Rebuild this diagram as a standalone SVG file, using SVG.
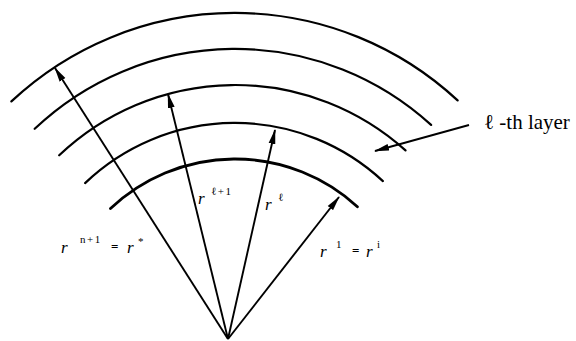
<svg xmlns="http://www.w3.org/2000/svg" width="576" height="341" viewBox="0 0 576 341">
<style>
.arc{fill:none;stroke:#000;stroke-width:2.2;stroke-linecap:round}
.ray{fill:none;stroke:#000;stroke-width:1.9;marker-end:url(#ah)}
.t{font-family:"Liberation Serif",serif;fill:#000}
.r{font-size:17px;font-style:italic}
.s{font-size:11px;letter-spacing:1.5px}
.eq{font-size:13px;font-weight:bold}
.lab{font-size:21px}
</style>
<defs>
<marker id="ah" viewBox="0 0 15 8" refX="14" refY="4" markerWidth="15" markerHeight="8" markerUnits="userSpaceOnUse" orient="auto">
<path d="M0,0.6 L15,4 L0,7.4 Z" fill="#000"/>
</marker>
</defs>
<rect width="576" height="341" fill="#fff"/>
<g id="layers">
<path class="arc" d="M11.4,101.4 A327,327 0 0 1 457.6,100.4"/>
<path class="arc" d="M34.7,128.8 A291,291 0 0 1 431.1,124.9"/>
<path class="arc" d="M59.2,155.3 A255,255 0 0 1 405.5,150.4"/>
<path class="arc" d="M85.1,183.1 A217,217 0 0 1 382.9,181.1"/>
<path class="arc" style="stroke-width:2.8" d="M110.5,208.6 A181,181 0 0 1 357.4,206.7"/>
</g>
<g id="connectors">
<line class="ray" x1="228" y1="339" x2="55" y2="68"/>
<line class="ray" x1="228" y1="339" x2="168" y2="94"/>
<line class="ray" x1="228" y1="339" x2="275" y2="130"/>
<line class="ray" x1="228" y1="339" x2="339" y2="197"/>
<line class="ray" x1="469" y1="125" x2="375" y2="151"/>
</g>
<g id="label-outer">
<text class="t r" x="61" y="253">r</text>
<text class="t s" x="80" y="243">n+1</text>
<text class="t eq" x="111" y="251">=</text>
<text class="t r" x="127" y="253">r</text>
<text class="t s" x="138" y="245">*</text>
</g>
<g id="label-l1">
<text class="t r" x="198" y="204">r</text>
<text class="t s" x="211" y="195">ℓ+1</text>
</g>
<g id="label-l">
<text class="t r" x="265" y="210">r</text>
<text class="t s" x="278" y="201">ℓ</text>
</g>
<g id="label-1">
<text class="t r" x="320" y="257">r</text>
<text class="t s" x="336" y="248">1</text>
<text class="t eq" x="352" y="255">=</text>
<text class="t r" x="366" y="257">r</text>
<text class="t s" x="377" y="248">i</text>
</g>
<g id="label-layer">
<text class="t lab" x="484" y="129">ℓ -th layer</text>
</g>
</svg>
